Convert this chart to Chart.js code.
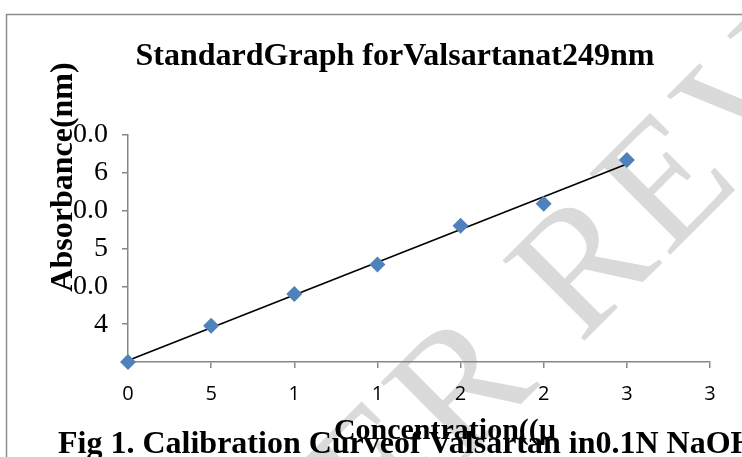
<!DOCTYPE html>
<html>
<head>
<meta charset="utf-8">
<script src="https://cdn.jsdelivr.net/npm/chart.js@4.4.1/dist/chart.umd.min.js"></script>
<style>
  html, body { margin: 0; padding: 0; background: #ffffff; }
  #wrap { width: 742px; height: 457px; position: relative; }
</style>
</head>
<body>
<div id="wrap"><canvas id="c" width="742" height="457"></canvas></div>
<script>
// ---- data ----
const concentrations = [0, 5, 10, 15, 20, 25, 30];
const absorbances = [0.0350, 0.0398, 0.0440, 0.0479, 0.0530, 0.0559, 0.0617];
// tick labels as printed (wrapped/truncated in the original)
const xTickLabels = ["0", "5", "1", "1", "2", "2", "3", "3"];
const yTickLabels = ["", "4", "0.0", "5", "0.0", "6", "0.0"];
const chartTitle = "StandardGraph forValsartanat249nm";
const yAxisTitle = "Absorbance(nm)";
const xAxisTitle = "Concentration((\u00b5";
const captionText = "Fig 1. Calibration Curveof Valsartan in0.1N NaOH";
const watermarkBefore = "PEER ";
const watermarkAfter = "REVIEW";

// least-squares trendline derived from the data
function linearFit(xs, ys) {
  const n = xs.length;
  const mx = xs.reduce((a, b) => a + b, 0) / n;
  const my = ys.reduce((a, b) => a + b, 0) / n;
  let sxy = 0, sxx = 0;
  for (let i = 0; i < n; i++) { sxy += (xs[i] - mx) * (ys[i] - my); sxx += (xs[i] - mx) ** 2; }
  const slope = sxy / sxx;
  return { slope, intercept: my - slope * mx };
}
const fit = linearFit(concentrations, absorbances);
const xFirst = concentrations[0], xLast = concentrations[concentrations.length - 1];
const trendData = [
  { x: xFirst, y: fit.intercept + fit.slope * xFirst },
  { x: xLast, y: fit.intercept + fit.slope * xLast }
];

const decorations = {
  id: 'decorations',
  beforeDraw(chart) {
    const ctx = chart.ctx;
    ctx.save();
    ctx.fillStyle = '#ffffff';
    ctx.fillRect(0, 0, chart.width, chart.height);
    // outer chart frame
    ctx.strokeStyle = '#8c8c8c';
    ctx.lineWidth = 1.5;
    ctx.beginPath();
    ctx.moveTo(6.5, chart.height);
    ctx.lineTo(6.5, 14.5);
    ctx.lineTo(chart.width, 14.5);
    ctx.stroke();
    // watermark
    ctx.translate(580, 345);
    ctx.rotate(-Math.PI / 4);
    ctx.font = '175px "Liberation Serif"';
    ctx.fillStyle = '#dadada';
    try { ctx.letterSpacing = '6px'; } catch (e) {}
    ctx.textBaseline = 'alphabetic';
    ctx.textAlign = 'left';
    ctx.fillText(watermarkAfter, 0, 0);
    ctx.textAlign = 'right';
    ctx.fillText(watermarkBefore, 0, 0);
    ctx.restore();
  },
  afterDraw(chart) {
    const ctx = chart.ctx;
    ctx.save();
    ctx.fillStyle = '#000000';
    ctx.textBaseline = 'alphabetic';
    // chart title
    ctx.font = 'bold 32px "Liberation Serif"';
    ctx.textAlign = 'center';
    ctx.fillText(chartTitle, 395, 65);
    // caption
    ctx.font = 'bold 32px "Liberation Serif"';
    ctx.textAlign = 'left';
    ctx.fillText(captionText, 58, 453);
    // x axis title
    ctx.font = 'bold 30px "Liberation Serif"';
    ctx.textAlign = 'center';
    ctx.fillText(xAxisTitle, 445, 439);
    // y axis title
    ctx.translate(72, 177);
    ctx.rotate(-Math.PI / 2);
    ctx.font = 'bold 32px "Liberation Serif"';
    ctx.textAlign = 'center';
    ctx.fillText(yAxisTitle, 0, 0);
    ctx.restore();
  }
};

const axisGray = '#868686';

new Chart(document.getElementById('c'), {
  type: 'scatter',
  data: {
    datasets: [
      {
        label: 'Absorbance',
        data: concentrations.map((x, i) => ({ x, y: absorbances[i] })),
        pointStyle: 'rectRot',
        pointRadius: 8,
        pointHoverRadius: 8,
        backgroundColor: '#4f81bd',
        borderColor: '#4f81bd',
        borderWidth: 0,
        clip: false,
        order: 1
      },
      {
        label: 'Linear',
        type: 'line',
        data: trendData,
        showLine: true,
        borderColor: '#000000',
        borderWidth: 1.6,
        pointRadius: 0,
        fill: false,
        clip: false,
        order: 2
      }
    ]
  },
  options: {
    responsive: false,
    animation: false,
    devicePixelRatio: 1,
    layout: { padding: { left: 48, top: 135, right: 32, bottom: 35 } },
    plugins: {
      legend: { display: false },
      title: { display: false },
      tooltip: { enabled: false }
    },
    scales: {
      x: {
        type: 'linear',
        min: 0,
        max: 35,
        afterFit(scale) { scale.height = 60; },
        border: { display: true, color: axisGray, width: 1.5 },
        grid: { display: true, drawOnChartArea: false, drawTicks: true, tickLength: 6, color: axisGray, lineWidth: 1.5 },
        ticks: {
          stepSize: 5,
          padding: 14,
          color: '#000000',
          font: { family: '"Open Sans"', size: 20 },
          callback: (v, i) => xTickLabels[i] ?? ''
        }
      },
      y: {
        type: 'linear',
        min: 0.035,
        max: 0.065,
        afterFit(scale) { scale.width = 80; },
        border: { display: true, color: axisGray, width: 1.5 },
        grid: { display: true, drawOnChartArea: false, drawTicks: true, tickLength: 6, color: axisGray, lineWidth: 1.5 },
        ticks: {
          stepSize: 0.005,
          padding: 14,
          color: '#000000',
          font: { family: '"Liberation Serif"', size: 28 },
          callback: (v, i) => yTickLabels[i] ?? ''
        }
      }
    }
  },
  plugins: [decorations]
});
</script>
</body>
</html>
